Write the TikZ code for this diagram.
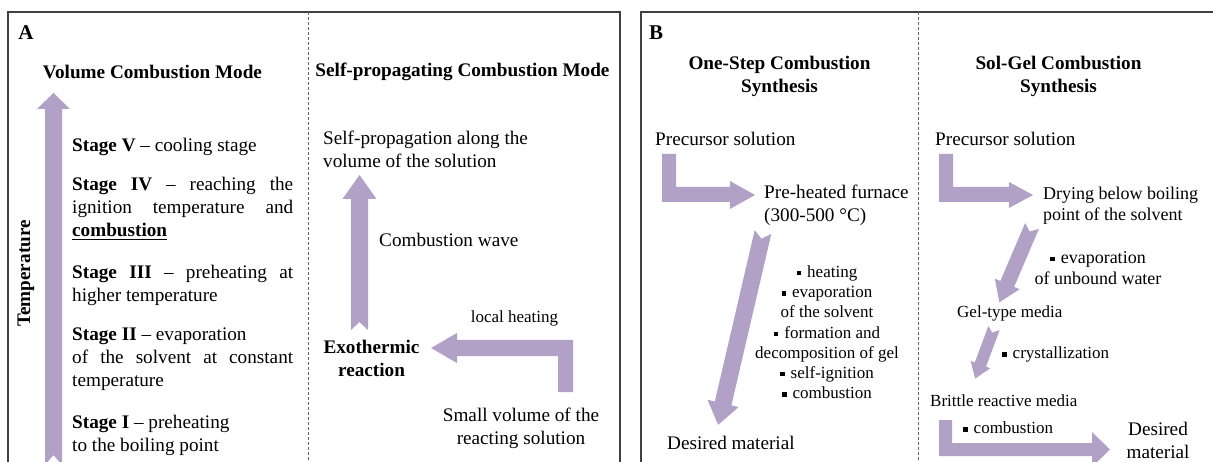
\documentclass[tikz,border=0pt]{standalone}
\usepackage{fontspec}
\setmainfont{Liberation Serif}
\definecolor{lav}{HTML}{B2A1C7}
\newcommand\sqbul{\rule[2pt]{4.5pt}{4.5pt}\hspace{6pt}}
\newcommand\ulb[1]{\setbox0\hbox{\bfseries #1}\rlap{\rule[-3.5pt]{\wd0}{1.3pt}}\box0}
\newcommand\fatarrow[8]{%
 \begin{scope}[shift={(#1,#2)},rotate=#3]
 \fill[lav] (0,-#5/2) -- (#4-#7,-#5/2) -- (#4-#7,-#6/2) -- (#4,0) -- (#4-#7,#6/2) -- (#4-#7,#5/2) -- (0,#5/2) -- (#8,0) -- cycle;
 \end{scope}}
\tikzset{
 txt/.style={inner sep=0pt, yshift=-1.5pt, font=\fontsize{19.2}{23}\selectfont},
 txtm/.style={inner sep=0pt, yshift=-1.5pt, font=\fontsize{18}{21}\selectfont},
 txts/.style={inner sep=0pt, yshift=-1.5pt, font=\fontsize{17}{20.2}\selectfont},
 txtb/.style={inner sep=0pt, yshift=-1.5pt, font=\fontsize{19.2}{23}\selectfont\bfseries},
 lab/.style={inner sep=0pt, font=\fontsize{21}{24}\selectfont\bfseries},
 frame/.style={draw=black!75, line width=1.2pt},
 divider/.style={draw=black!60, line width=0.8pt, dash pattern=on 3pt off 2pt},
}
\begin{document}
\begin{tikzpicture}[x=1pt,y=-1pt]
\useasboundingbox (0,0) rectangle (1213,462);
\clip (0,0) rectangle (1213,462);
% frames
\draw[frame] (8,12) rectangle (620,480);
\draw[frame] (641,12) rectangle (1230,480);
\draw[divider] (308,12) -- (308,480);
\draw[divider] (918.5,12) -- (918.5,480);

% ---------- Panel A ----------
\node[lab] (labA) at (26,33) {A};
\node[txtb] (titleVol) at (152.5,70) {Volume Combustion Mode};
\node[txtb] (titleSelf) at (462.5,70) {Self-propagating Combustion Mode};

\fatarrow{53.5}{465}{90}{372}{17}{33}{16}{10}
\node[txtb, rotate=90] (temp) at (26,272) {Temperature};

\node[txt, anchor=west] (st5) at (72,145) {\strut\textbf{Stage V} – cooling stage};
\node[txt, anchor=west, align=left] (st4) at (72,207.5) {\strut\makebox[221pt][s]{\textbf{Stage IV} – reaching the}\\\strut\makebox[221pt][s]{ignition temperature and}\\\strut\ulb{combustion}};
\node[txt, anchor=west, align=left] (st3) at (72,284) {\strut\makebox[221pt][s]{\textbf{Stage III} – preheating at}\\\strut higher temperature};
\node[txt, anchor=west, align=left] (st2) at (72,357.5) {\strut\textbf{Stage II} – evaporation\\\strut\makebox[221pt][s]{of the solvent at constant}\\\strut temperature};
\node[txt, anchor=west, align=left] (st1) at (72,434) {\strut\textbf{Stage I} – preheating\\\strut to the boiling point};

\node[txt, anchor=west, align=left] (sp) at (323,150) {\strut Self-propagation along the\\\strut volume of the solution};
\fatarrow{359.5}{330}{90}{155}{17}{34}{24}{8}
\node[txt, anchor=west] (cw) at (379,240) {\strut Combustion wave};
\node[txtb, align=center] (exo) at (371.5,359) {\strut Exothermic\\\strut reaction};
\node[txts] (lh) at (514.5,317) {\strut local heating};
\fill[lav] (573,392) -- (558,392) -- (558,356) -- (457,356) -- (457,363) -- (431,348) -- (457,333) -- (457,340) -- (573,340) -- cycle;
\node[txt, align=center] (small) at (521,426.5) {\strut Small volume of the\\\strut reacting solution};

% ---------- Panel B ----------
\node[lab] (labB) at (656,33) {B};
\node[txtb, align=center] (titleOne) at (779.5,74.5) {\strut One-Step Combustion\\\strut Synthesis};
\node[txtb, align=center] (titleSol) at (1058.5,74.5) {\strut Sol-Gel Combustion\\\strut Synthesis};

\node[txt, anchor=west] (precL) at (655,139) {\strut Precursor solution};
\fill[lav] (662,154) -- (676,154) -- (676,187) -- (730,187) -- (730,181) -- (755,195) -- (730,209) -- (730,202) -- (662,202) -- cycle;
\node[txt, anchor=west, align=left] (furn) at (764,204) {\strut Pre-heated furnace\\\strut (300-500 °C)};
\fatarrow{763}{232}{-103.1}{198}{17}{32}{22}{7}
\node[txts, align=center] (listL) at (827,332.5) {\strut\sqbul heating\\\strut\sqbul evaporation\\\strut of the solvent\\\strut\sqbul formation and\\\strut decomposition of gel\\\strut\sqbul self-ignition\\\strut\sqbul combustion};
\node[txt, anchor=west] (desL) at (667,443) {\strut Desired material};

\node[txt, anchor=west] (precR) at (935,139) {\strut Precursor solution};
\fill[lav] (939,154) -- (953,154) -- (953,187) -- (1009,187) -- (1009,182) -- (1033,195) -- (1009,208) -- (1009,202) -- (939,202) -- cycle;
\node[txtm, anchor=west, align=left] (dry) at (1043,204) {\strut Drying below boiling\\\strut point of the solvent};
\fatarrow{1032}{226}{-113.15}{83}{15}{27}{20}{6}
\node[txtm, align=center] (evap) at (1098,268) {\strut\sqbul evaporation\\\strut of unbound water};
\node[txts, anchor=west] (gel) at (957,312) {\strut Gel-type media};
\fatarrow{994}{328}{-110.4}{54}{12}{21}{15}{5}
\node[txts, anchor=west] (cryst) at (1002,353) {\strut\sqbul crystallization};
\node[txts, anchor=west] (brit) at (930,401) {\strut Brittle reactive media};
\node[txts, anchor=west] (comb) at (963,428) {\strut\sqbul combustion};
\fill[lav] (939,420) -- (952,420) -- (952,443) -- (1092,443) -- (1092,432) -- (1110,449.5) -- (1092,467) -- (1092,456) -- (939,456) -- cycle;
\node[txt, align=center] (desR) at (1158,441) {\strut Desired\\\strut material};
\end{tikzpicture}
\end{document}
